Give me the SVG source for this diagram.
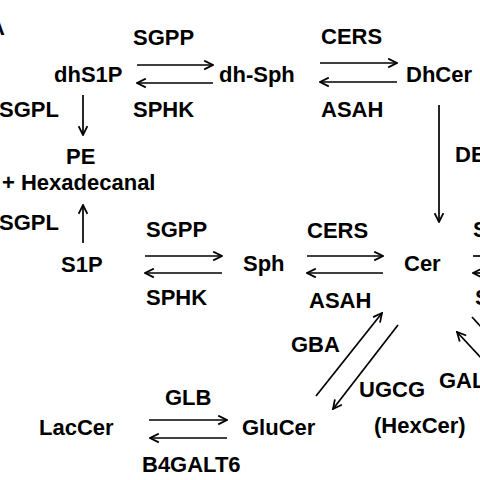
<svg xmlns="http://www.w3.org/2000/svg" width="480" height="480" viewBox="0 0 480 480">
<defs>
<style>
text{font-family:"Liberation Sans",Arial,sans-serif;font-weight:bold;font-size:22px;fill:#000}
.c line{stroke:#000;stroke-width:1.7;fill:none}
.a{marker-end:url(#ah)}
</style>
<marker id="ah" viewBox="0 0 10 10" refX="9" refY="5" markerWidth="11" markerHeight="11" markerUnits="userSpaceOnUse" orient="auto">
<path d="M1,1 L9,5 L1,9" fill="none" stroke="#000" stroke-width="1.6"/>
</marker>
</defs>
<rect width="480" height="480" fill="#fff"/>
<text x="-11" y="35">A</text>
<g id="dhS1P"><text x="54" y="82">dhS1P</text></g>
<g id="dhSph"><text x="219" y="82">dh-Sph</text></g>
<g id="DhCer"><text x="406" y="82">DhCer</text></g>
<g id="PE"><text x="66" y="164">PE</text><text x="2" y="190">+ Hexadecanal</text></g>
<g id="S1P"><text x="61" y="272">S1P</text></g>
<g id="Sph"><text x="243" y="271">Sph</text></g>
<g id="Cer"><text x="404" y="271">Cer</text></g>
<g id="LacCer"><text x="39" y="435">LacCer</text></g>
<g id="GluCer"><text x="242" y="435">GluCer</text></g>
<g id="HexCer"><text x="374" y="433">(HexCer)</text></g>
<g id="labels">
<text x="133" y="45">SGPP</text>
<text x="133" y="117">SPHK</text>
<text x="321" y="44">CERS</text>
<text x="321" y="117">ASAH</text>
<text x="-1" y="117">SGPL</text>
<text x="-1" y="230">SGPL</text>
<text x="146" y="237">SGPP</text>
<text x="146" y="305">SPHK</text>
<text x="307" y="238">CERS</text>
<text x="309" y="308">ASAH</text>
<text x="455" y="162">DE</text>
<text x="473" y="237">S</text>
<text x="475" y="305">S</text>
<text x="291" y="352">GBA</text>
<text x="359" y="397">UGCG</text>
<text x="439" y="388">GAL</text>
<text x="165" y="405">GLB</text>
<text x="142" y="472">B4GALT6</text>
</g>
<g id="connectors" class="c">
<line class="a" x1="137" y1="65" x2="213" y2="65"/>
<line class="a" x1="213" y1="83" x2="137" y2="83"/>
<line class="a" x1="320" y1="63" x2="397" y2="63"/>
<line class="a" x1="397" y1="82" x2="320" y2="82"/>
<line class="a" x1="83" y1="95" x2="83" y2="135"/>
<line class="a" x1="83" y1="243" x2="83" y2="205"/>
<line class="a" x1="145" y1="256" x2="222" y2="256"/>
<line class="a" x1="222" y1="273" x2="145" y2="273"/>
<line class="a" x1="307" y1="256" x2="383" y2="256"/>
<line class="a" x1="383" y1="273" x2="307" y2="273"/>
<line class="a" x1="439" y1="105" x2="439" y2="222"/>
<line x1="473" y1="256" x2="480" y2="256"/>
<line class="a" x1="482" y1="273" x2="473" y2="273"/>
<line class="a" x1="316" y1="396" x2="382" y2="313"/>
<line class="a" x1="398" y1="325" x2="333" y2="409"/>
<line x1="472" y1="317" x2="482" y2="328"/>
<line class="a" x1="482" y1="359" x2="457" y2="332"/>
<line class="a" x1="149" y1="420" x2="227" y2="420"/>
<line class="a" x1="227" y1="438" x2="150" y2="438"/>
</g>
</svg>
